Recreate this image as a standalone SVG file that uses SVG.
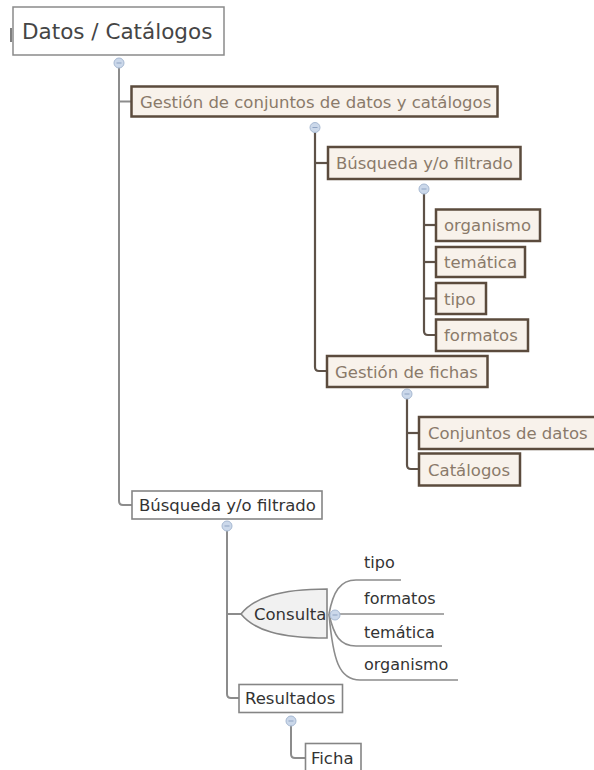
<svg xmlns="http://www.w3.org/2000/svg" width="594" height="770" viewBox="0 0 594 770">
  <style>
    text { font-family: "DejaVu Sans", Verdana, sans-serif; }
    .root rect { fill: #ffffff; stroke: #8a8a8a; stroke-width: 1.5; }
    .root text { font-size: 21.5px; fill: #454545; }
    .brown rect { fill: #f8f2eb; stroke: #5b4b3d; stroke-width: 2.5; }
    .brown text { font-size: 16.5px; fill: #8a7a6a; }
    .gray rect, .gray path { fill: #ffffff; stroke: #858585; stroke-width: 1.6; }
    .gray text { font-size: 16.5px; fill: #333333; }
    .shape path { fill: #f1f1f1; }
    .plain text { font-size: 16px; fill: #333333; }
    .ln-gray { fill: none; stroke: #8c8c8c; stroke-width: 2; }
    .ln-brown { fill: none; stroke: #5e5248; stroke-width: 2.2; }
    .ln-fan { fill: none; stroke: #8c8c8c; stroke-width: 1.6; }
    .ln-tick { fill: none; stroke: #555555; stroke-width: 1.5; }
    .toggle circle { fill: #cbd8ea; stroke: #a7b9d2; stroke-width: 1; }
    .toggle path { stroke: #8ea3c2; stroke-width: 1; }
  </style>

  <!-- connectors -->
  <g id="connectors">
    <path class="ln-tick" d="M11,28 V42" />
    <path class="ln-gray" d="M119,67 V501 Q119,505 123,505 H132" />
    <path class="ln-gray" d="M119,101.5 H131" />

    <path class="ln-brown" d="M315,132 V367 Q315,371 319,371 H327" />
    <path class="ln-brown" d="M315,163 H328" />

    <path class="ln-brown" d="M424,193 V331 Q424,335 428,335 H436" />
    <path class="ln-brown" d="M424,225 H436" />
    <path class="ln-brown" d="M424,262 H436" />
    <path class="ln-brown" d="M424,298.5 H436" />

    <path class="ln-brown" d="M407,398 V465 Q407,469 411,469 H419" />
    <path class="ln-brown" d="M407,433 H419" />

    <path class="ln-gray" d="M227,530 V694 Q227,698 231,698 H239" />
    <path class="ln-gray" d="M227,614 H241" />

    <path class="ln-gray" d="M291,725 V754 Q291,758 295,758 H306" />

    <!-- fan from Consulta -->
    <path class="ln-fan" d="M329,614 C333,592 340,580 356,580 H401" />
    <path class="ln-fan" d="M329,614 H444" />
    <path class="ln-fan" d="M329,614 C334,636 340,646 356,646 H442" />
    <path class="ln-fan" d="M329,614 C333,660 339,680 360,680 H458" />
  </g>

  <!-- collapse toggles -->
  <g id="toggles" class="toggle">
    <g><circle cx="119" cy="63" r="5" /><path d="M116.5,63 H121.5" /></g>
    <g><circle cx="315" cy="127.5" r="5" /><path d="M312.5,127.5 H317.5" /></g>
    <g><circle cx="424" cy="189" r="5" /><path d="M421.5,189 H426.5" /></g>
    <g><circle cx="407" cy="394" r="5" /><path d="M404.5,394 H409.5" /></g>
    <g><circle cx="227" cy="526" r="5" /><path d="M224.5,526 H229.5" /></g>
    <g><circle cx="335" cy="615" r="5" /><path d="M332.5,615 H337.5" /></g>
    <g><circle cx="291" cy="721" r="5" /><path d="M288.5,721 H293.5" /></g>
  </g>

  <!-- nodes -->
  <g id="node-root" class="root">
    <rect x="13" y="7" width="211" height="48" />
    <text x="22" y="39">Datos / Catálogos</text>
  </g>

  <g id="node-gestion-conjuntos" class="brown">
    <rect x="131.5" y="86.5" width="366" height="30" />
    <text x="140" y="107.5">Gestión de conjuntos de datos y catálogos</text>
  </g>

  <g id="node-busqueda-1" class="brown">
    <rect x="328" y="147" width="192.5" height="32" />
    <text x="336" y="169">Búsqueda y/o filtrado</text>
  </g>

  <g id="node-organismo-1" class="brown">
    <rect x="436" y="209.5" width="104" height="31.5" />
    <text x="444" y="231">organismo</text>
  </g>
  <g id="node-tematica-1" class="brown">
    <rect x="436" y="247" width="89" height="30" />
    <text x="444" y="268">temática</text>
  </g>
  <g id="node-tipo-1" class="brown">
    <rect x="436" y="283" width="50" height="31" />
    <text x="444" y="304.5">tipo</text>
  </g>
  <g id="node-formatos-1" class="brown">
    <rect x="436" y="319.5" width="92" height="31.5" />
    <text x="444" y="341">formatos</text>
  </g>

  <g id="node-gestion-fichas" class="brown">
    <rect x="327" y="356" width="160.5" height="31" />
    <text x="335" y="377.5">Gestión de fichas</text>
  </g>

  <g id="node-conjuntos" class="brown">
    <rect x="419" y="417" width="180" height="32" />
    <text x="428" y="439">Conjuntos de datos</text>
  </g>
  <g id="node-catalogos" class="brown">
    <rect x="419" y="453.5" width="101" height="32" />
    <text x="428" y="475.5">Catálogos</text>
  </g>

  <g id="node-busqueda-2" class="gray">
    <rect x="132" y="491" width="190" height="28" />
    <text x="139" y="511">Búsqueda y/o filtrado</text>
  </g>

  <g id="node-consulta" class="gray shape">
    <path d="M241,614 C254,598 279,589 327,589 V638 C279,638 254,630 241,614 Z" />
    <text x="254" y="620">Consulta</text>
  </g>

  <g id="node-tipo-2" class="plain"><text x="364" y="568">tipo</text></g>
  <g id="node-formatos-2" class="plain"><text x="364" y="604">formatos</text></g>
  <g id="node-tematica-2" class="plain"><text x="364" y="638">temática</text></g>
  <g id="node-organismo-2" class="plain"><text x="364" y="670">organismo</text></g>

  <g id="node-resultados" class="gray">
    <rect x="239" y="684.5" width="103.5" height="28" />
    <text x="245" y="704">Resultados</text>
  </g>

  <g id="node-ficha" class="gray">
    <rect x="305.5" y="743.5" width="55.5" height="30" />
    <text x="311" y="764">Ficha</text>
  </g>
</svg>
